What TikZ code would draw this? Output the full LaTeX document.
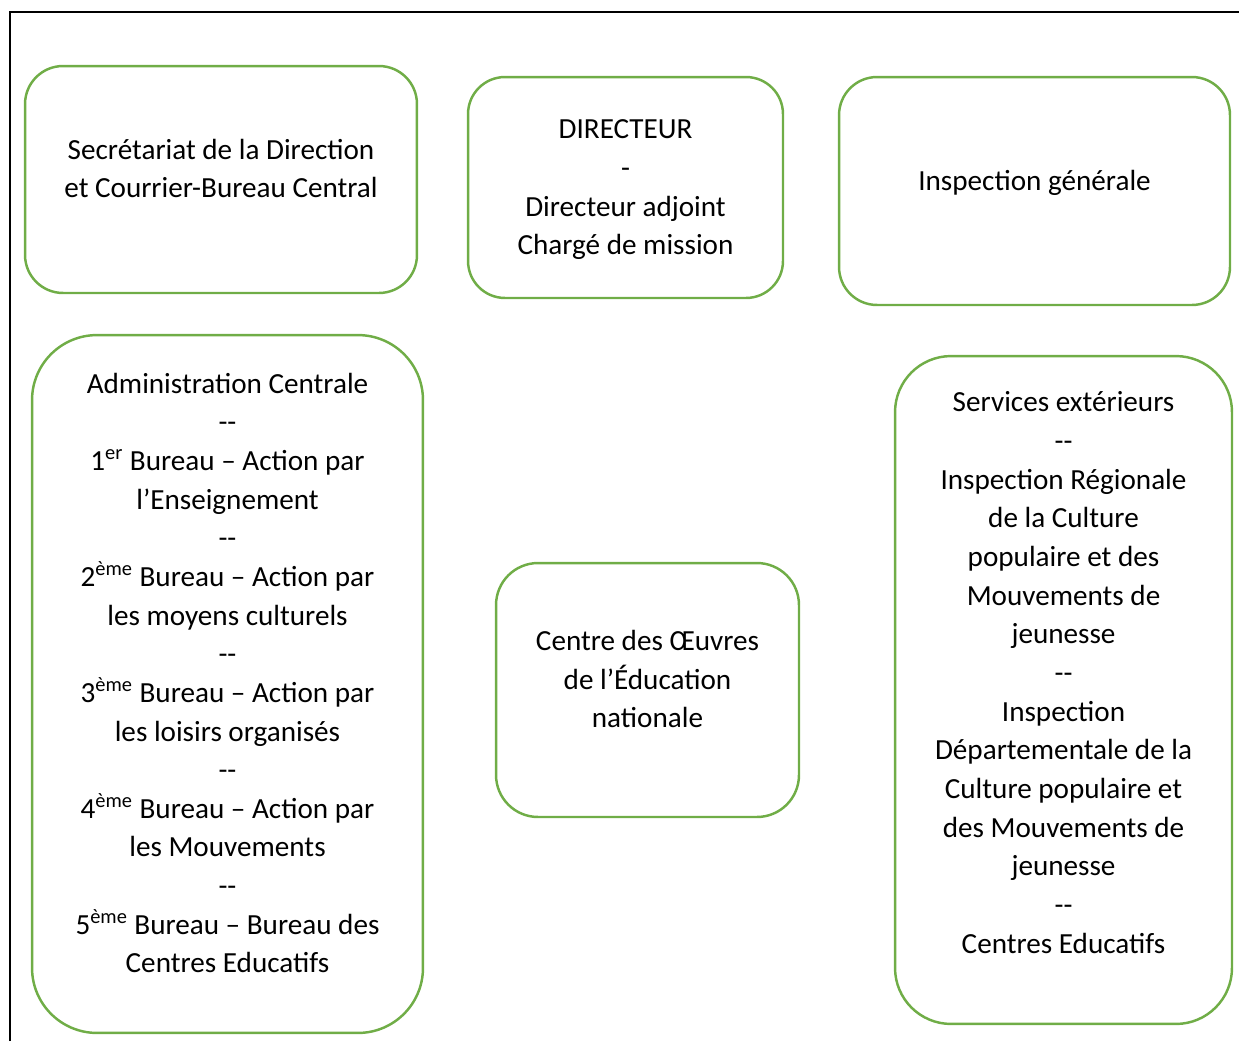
\documentclass[tikz,border=0pt]{standalone}
\usepackage{fontspec}
\setmainfont{Carlito}
\usepackage{tikz}
\definecolor{boxgreen}{HTML}{70AD47}
\tikzset{
  box/.style={rectangle, draw=boxgreen, line width=1.4pt, inner sep=0pt},
  boxtext/.style={align=center, inner sep=0pt,
    font=\fontsize{16.6}{22}\selectfont},
  frame/.style={draw=black, line width=1.1pt},
}

\begin{document}
\begin{tikzpicture}[x=0.02cm, y=-0.02cm]
         \useasboundingbox (0,0) rectangle (1239,1041);

         % outer frame, open at the right and bottom
         \draw [frame] (10,1041) -- (10,12) -- (1239,12);

         % top row
         \node (secr) at (221,179.5) [box, rounded corners=0.76cm,
            minimum width=7.84cm, minimum height=4.54cm] {};
         \node (secr-t) at (221,168.5) [boxtext]
            {Secrétariat de la Direction\\ et Courrier-Bureau Central};

         \node (dir) at (625.5,187.5) [box, rounded corners=0.74cm,
            minimum width=6.3cm, minimum height=4.42cm] {};
         \node (dir-t) at (625.5,190) [boxtext]
            {DIRECTEUR\\ -\\ Directeur adjoint\\ Chargé de mission};

         \node (insp) at (1034.5,191) [box, rounded corners=0.76cm,
            minimum width=7.82cm, minimum height=4.56cm] {};
         \node (insp-t) at (1034.5,183) [boxtext] {Inspection générale};

         % lower row
         \node (admin) at (227.5,684) [box, rounded corners=1.3cm,
            minimum width=7.82cm, minimum height=13.96cm] {};
         \node (admin-t) at (227.5,673) [boxtext]
            {Administration Centrale\\ -{}-\\
             1\textsuperscript{er} Bureau – Action par\\ l’Enseignement\\ -{}-\\
             2\textsuperscript{ème} Bureau – Action par\\ les moyens culturels\\ -{}-\\
             3\textsuperscript{ème} Bureau – Action par\\ les loisirs organisés\\ -{}-\\
             4\textsuperscript{ème} Bureau – Action par\\ les Mouvements\\ -{}-\\
             5\textsuperscript{ème} Bureau – Bureau des\\ Centres Educatifs};

         \node (oeuvres) at (647.5,690) [box, rounded corners=0.84cm,
            minimum width=6.06cm, minimum height=5.08cm] {};
         \node (oeuvres-t) at (647.5,679) [boxtext]
            {Centre des Œuvres\\ de l’Éducation\\ nationale};

         \node (serv) at (1063.5,690) [box, rounded corners=1.12cm,
            minimum width=6.74cm, minimum height=13.36cm] {};
         \node (serv-t) at (1063.5,672.5) [boxtext]
            {Services extérieurs\\ -{}-\\ Inspection Régionale\\ de la Culture\\
             populaire et des\\ Mouvements de\\ jeunesse\\ -{}-\\ Inspection\\
             Départementale de la\\ Culture populaire et\\ des Mouvements de\\
             jeunesse\\ -{}-\\ Centres Educatifs};
      \end{tikzpicture}
\end{document}
